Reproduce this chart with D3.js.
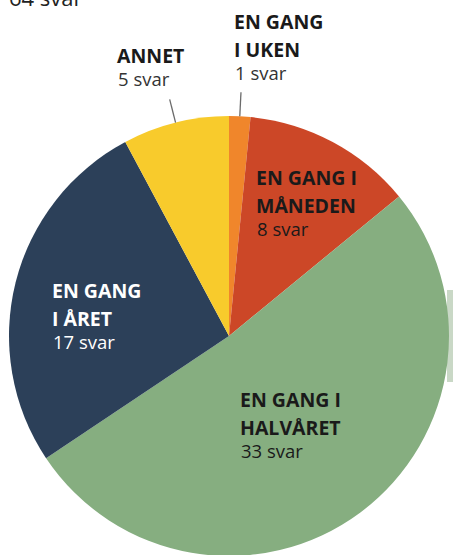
<!DOCTYPE html>
<html>
<head>
<meta charset="utf-8">
<script src="https://cdn.jsdelivr.net/npm/d3@7"></script>
<style>
  body { margin: 0; background: #fff; }
  svg { display: block; }
  text { font-family: "Open Sans", "DejaVu Sans", sans-serif; }
</style>
</head>
<body>
<svg id="chart"></svg>
<script>
// answers, clockwise from the top
const categories = ["EN GANG I UKEN", "EN GANG I MÅNEDEN", "EN GANG I HALVÅRET", "EN GANG I ÅRET", "ANNET"];
const values = [1, 8, 33, 17, 5];
const titleLines = [["EN GANG", "I UKEN"], ["EN GANG I", "MÅNEDEN"], ["EN GANG I", "HALVÅRET"], ["EN GANG", "I ÅRET"], ["ANNET"]];
const sliceColors = ["#f0862b", "#cc4727", "#86ae80", "#2c4059", "#f8cb2c"];
const totalLabel = "64 svar";

const width = 453, height = 555;
const cx = 229, cy = 336, r = 220;

// where each label block starts (x, first baseline), its colours and if it gets a leader line
const labelLayout = [
  { x: 234, y: 29, fill: "#1a1a1a", sub: "#333", leader: true },
  { x: 256, y: 185, fill: "#1a1a1a", sub: "#1a1a1a", leader: false },
  { x: 240, y: 407, fill: "#1a1a1a", sub: "#1a1a1a", leader: false },
  { x: 52, y: 298, fill: "#fff", sub: "#fff", leader: false },
  { x: 117, y: 63, fill: "#1a1a1a", sub: "#333", leader: true }
];

const svg = d3.select("#chart").attr("width", width).attr("height", height);

// faint strip at right edge of the scan
svg.append("rect")
  .attr("x", 447).attr("y", 290)
  .attr("width", 6).attr("height", 92)
  .attr("fill", "#c9d8c6");

const pie = d3.pie().sort(null).value(d => d)(values);
const arc = d3.arc().innerRadius(0).outerRadius(r);

const g = svg.append("g").attr("transform", `translate(${cx},${cy})`);

g.selectAll("path")
  .data(pie)
  .enter()
  .append("path")
  .attr("d", arc)
  .attr("fill", (d, i) => sliceColors[i]);

// leader lines for the small slices outside the pie
pie.forEach((d, i) => {
  if (!labelLayout[i].leader) return;
  const a = (d.startAngle + d.endAngle) / 2;
  g.append("line")
    .attr("x1", Math.sin(a) * r)
    .attr("y1", -Math.cos(a) * r)
    .attr("x2", Math.sin(a) * (r + 24))
    .attr("y2", -Math.cos(a) * (r + 24))
    .attr("stroke", "#6b6b6b")
    .attr("stroke-width", 1.3);
});

// labels
categories.forEach((c, i) => {
  const L = labelLayout[i];
  const t = svg.append("text").attr("x", L.x).attr("y", L.y);
  titleLines[i].forEach((line, j) => {
    t.append("tspan")
      .attr("x", L.x)
      .attr("y", L.y + j * 28)
      .attr("font-size", 19.5)
      .attr("font-weight", "bold")
      .attr("fill", L.fill)
      .text(line);
  });
  t.append("tspan")
    .attr("x", L.x + 1)
    .attr("y", L.y + (titleLines[i].length - 1) * 28 + 23)
    .attr("font-size", 18.5)
    .attr("fill", L.sub)
    .text(values[i] + " svar");
});

svg.append("text")
  .attr("x", 9)
  .attr("y", 6)
  .attr("font-size", 22)
  .attr("fill", "#222")
  .text(totalLabel);
</script>
</body>
</html>
